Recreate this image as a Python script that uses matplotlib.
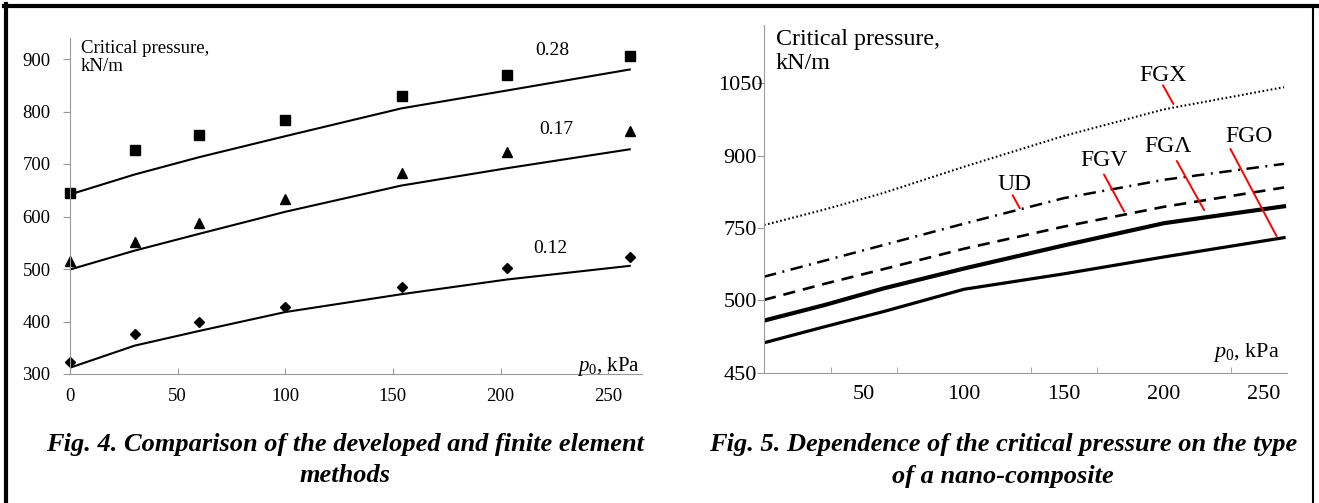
import matplotlib.pyplot as plt
from matplotlib.lines import Line2D

plt.rcParams['font.family'] = ['Liberation Serif', 'DejaVu Serif']
plt.rcParams['mathtext.fontset'] = 'custom'
plt.rcParams['mathtext.it'] = 'Liberation Serif:italic'
plt.rcParams['mathtext.rm'] = 'Liberation Serif'

# ---- Fig. 4 : developed method (lines) vs finite elements (markers)
p0_fe = [0, 30, 60, 100, 154, 203, 260]
fe_028 = [644, 726, 756, 784, 829, 870, 905]
fe_017 = [516, 551, 587, 634, 683, 723, 762]
fe_012 = [323, 377, 399, 427, 465, 502, 523]
dev_028 = [642, 680, 713, 753, 806, 840, 880]
dev_017 = [499, 535, 567, 609, 659, 692, 728]
dev_012 = [312, 354, 382, 418, 452, 480, 506]
labels4 = ['0.28', '0.17', '0.12']
label4_pos = [(224, 917), (226, 765), (223, 539)]

# ---- Fig. 5 : critical pressure by nano-composite type
p0 = [0, 30, 60, 100, 150, 200, 260]
fgx = [756, 788, 823, 877, 941, 996, 1042]
ud = [649, 682, 715, 759, 812, 850, 883]
fgv = [601, 634, 665, 707, 753, 794, 834]
fgl = [558, 590, 625, 666, 714, 760, 795]
fgo = [512, 545, 577, 623, 655, 690, 730]
names5 = ['FGX', 'UD', 'FGV', 'FG\u039b', 'FGO']
name5_pos = [(199.5, 1067), (125.4, 840), (170, 889), (202.2, 918), (242.6, 939)]
pointer_from = [(199.5, 1046), (124.3, 818), (170, 861), (206.4, 889), (233.2, 914)]
pointer_to = [(204.7, 1007), (127.9, 791), (180.1, 784), (220.1, 787), (256.3, 733)]
yticks5 = [450, 600, 750, 900, 1050]
yticklabels5 = ['450', '500', '750', '900', '1050']
xticks5 = [50, 100, 150, 200, 250]

W, H = 1319, 503
fig = plt.figure(figsize=(W / 100, H / 100), dpi=100)
grey = '#9a9a9a'

# left chart
ax1 = fig.add_axes([70 / W, 1 - 374 / H, (642 - 70) / W, (374 - 38) / H])
ax1.plot(p0_fe, dev_028, color='black', lw=1.5)
ax1.plot(p0_fe, dev_017, color='black', lw=1.5)
ax1.plot(p0_fe, dev_012, color='black', lw=1.5)
ax1.plot(p0_fe, fe_028, 's', color='black', ms=7, clip_on=False)
ax1.plot(p0_fe, fe_017, '^', color='black', ms=7, clip_on=False)
ax1.plot(p0_fe, fe_012, 'D', color='black', ms=5.5, clip_on=False)
for txt, (x, y) in zip(labels4, label4_pos):
    ax1.text(x, y, txt, fontsize=14, ha='center', va='center')
ax1.set_xlim(0, 265.7)
ax1.set_ylim(300, 940)
ax1.set_xticks([0, 50, 100, 150, 200, 250])
ax1.set_yticks([300, 400, 500, 600, 700, 800, 900])
ax1.tick_params(axis='y', direction='out', length=5, color=grey, labelsize=13.5, pad=9)
ax1.tick_params(axis='x', direction='in', length=4, color=grey, labelsize=13.5, pad=10)
ax1.text(5, 937, 'Critical pressure,\nkN/m', fontsize=13.5, ha='left', va='top', linespacing=1.1)
ax1.text(265, 315, r'$p_0$, kPa', fontsize=15, ha='right', va='center')

# right chart
ax2 = fig.add_axes([764 / W, 1 - 372.7 / H, (1287 - 764) / W, (372.7 - 25) / H])
ax2.plot(p0, fgx, color='black', lw=1.5, dashes=(0.8, 1.2))
ax2.plot(p0, ud, color='black', lw=1.8, dashes=(5, 2.6, 0.8, 2.6))
ax2.plot(p0, fgv, color='black', lw=1.9, dashes=(4.6, 3.0))
ax2.plot(p0, fgl, color='black', lw=3.0)
ax2.plot(p0, fgo, color='black', lw=2.3)
for txt, (x, y) in zip(names5, name5_pos):
    ax2.text(x, y, txt, fontsize=17, ha='center', va='center')
for a, b in zip(pointer_from, pointer_to):
    ax2.annotate('', xy=b, xytext=a,
                 arrowprops=dict(arrowstyle='-', color='red', lw=1.4, shrinkA=0, shrinkB=0))
ax2.set_xlim(0, 261.5)
ax2.set_ylim(450, 1170.9)
ax2.set_xticks(xticks5)
ax2.set_xticks([100 / 3 * k for k in range(1, 8)], minor=True)
ax2.set_yticks(yticks5)
ax2.set_yticklabels(yticklabels5)
for lab in ax2.get_yticklabels():
    lab.set_horizontalalignment('center')
ax2.tick_params(axis='x', which='major', length=0, labelsize=16, pad=9)
ax2.tick_params(axis='x', which='minor', direction='in', length=4, color=grey)
ax2.tick_params(axis='y', direction='out', length=5, color=grey, labelsize=16, pad=12)
ax2.text(6, 1162, 'Critical pressure,\nkN/m', fontsize=17.3, ha='left', va='top', linespacing=1.15)
ax2.text(258, 492, r'$p_0$, kPa', fontsize=16, ha='right', va='center')

for ax in (ax1, ax2):
    ax.spines['top'].set_visible(False)
    ax.spines['right'].set_visible(False)
    ax.spines['left'].set_color(grey)
    ax.spines['bottom'].set_color(grey)
    ax.patch.set_alpha(0)

# captions
cap = dict(fontsize=19, fontweight='bold', fontstyle='italic', ha='center', va='center')
fig.text(345 / W, 1 - 445 / H, 'Fig. 4. Comparison of the developed and finite element', **cap)
fig.text(345 / W, 1 - 476 / H, 'methods', **cap)
fig.text(1003 / W, 1 - 445 / H, 'Fig. 5. Dependence of the critical pressure on the type', **cap)
fig.text(1003 / W, 1 - 476 / H, 'of a nano-composite', **cap)

# page frame
tf = fig.transFigure
fig.add_artist(Line2D([4 / W, 1], [1 - 6 / H, 1 - 6 / H], color='black', lw=3, transform=tf))
fig.add_artist(Line2D([6 / W, 6 / W], [0, 1 - 4 / H], color='black', lw=3, transform=tf))
fig.add_artist(Line2D([1313 / W, 1313 / W], [0, 1 - 6 / H], color='black', lw=1.5, transform=tf))

fig.savefig('out.png', dpi=100)
